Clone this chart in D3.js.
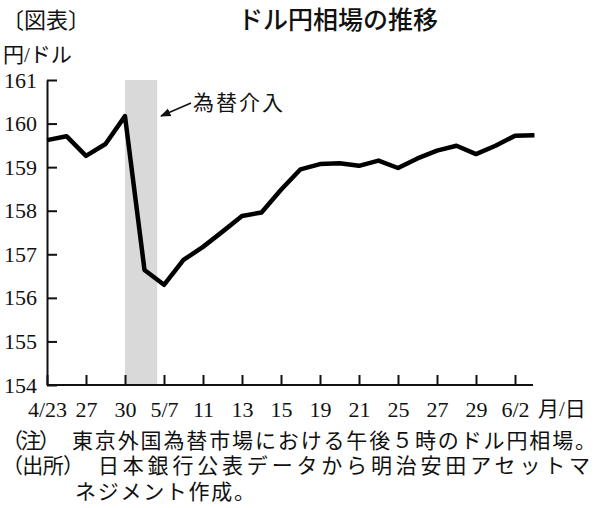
<!DOCTYPE html>
<html>
<head>
<meta charset="utf-8">
<script src="https://cdn.jsdelivr.net/npm/d3@7"></script>
<style>
  body { margin: 0; background: #fff; }
  text { fill: #111; }
</style>
</head>
<body>
<div id="chart"></div>
<script>
// daily values, one per trading day (labels every other point)
const rates = [159.62, 159.71, 159.26, 159.53, 160.17, 156.64, 156.30, 156.87, 157.17, 157.52,
               157.88, 157.96, 158.48, 158.95, 159.07, 159.09, 159.03, 159.15, 158.98, 159.20,
               159.38, 159.49, 159.30, 159.49, 159.72, 159.73];
const dateLabels = ["4/23", "27", "30", "5/7", "11", "13", "15", "19", "21", "25", "27", "29", "6/2"];
const yTicks = [154, 155, 156, 157, 158, 159, 160, 161];
const intervention = [4, 5.65]; // shaded span, in day index

const width = 600, height = 508;
const serif = "'Liberation Serif', 'Noto Sans CJK JP', serif";
const jp = "'Noto Sans CJK JP', sans-serif";

const svg = d3.select("#chart")
    .append("svg")
    .attr("width", width)
    .attr("height", height);

const x = d3.scaleLinear()
    .domain([0, rates.length - 1])
    .range([47, 534.5]);

const y = d3.scaleLinear()
    .domain([154, 161])
    .range([385, 80]);

// shaded intervention band
svg.append("rect")
    .attr("x", x(intervention[0]))
    .attr("y", y(161))
    .attr("width", x(intervention[1]) - x(intervention[0]))
    .attr("height", y(154) - y(161))
    .attr("fill", "#d9d9d9");

// axes
const yAxis = svg.append("g")
    .attr("transform", `translate(${x(0)},0)`)
    .call(d3.axisLeft(y)
        .tickValues(yTicks)
        .tickFormat(d3.format("d"))
        .tickSizeInner(-10).tickSizeOuter(0).tickPadding(10));

const xAxis = svg.append("g")
    .attr("transform", `translate(0,${y(154)})`)
    .call(d3.axisBottom(x)
        .tickValues(dateLabels.map((d, i) => i * 2))
        .tickFormat((d, i) => dateLabels[i])
        .tickSizeInner(-10).tickSizeOuter(0).tickPadding(16));

[yAxis, xAxis].forEach(g => {
    g.selectAll("path, line").attr("stroke", "#111").attr("stroke-width", 2);
    g.selectAll("text")
        .style("font-family", serif)
        .style("font-size", "22px")
        .attr("fill", "#111");
});
xAxis.select(".domain").attr("d", `M${x(0)},0H533`);

// line
const line = d3.line()
    .x((d, i) => x(i))
    .y(d => y(d));

svg.append("path")
    .datum(rates)
    .attr("d", line)
    .attr("fill", "none")
    .attr("stroke", "#000")
    .attr("stroke-width", 4.5)
    .attr("stroke-linejoin", "round");

// arrow annotation
svg.append("defs").append("marker")
    .attr("id", "arrow")
    .attr("viewBox", "0 0 10 10")
    .attr("refX", 9).attr("refY", 5)
    .attr("markerWidth", 7).attr("markerHeight", 7)
    .attr("orient", "auto")
    .append("path")
    .attr("d", "M0,1L10,5L0,9Z")
    .attr("fill", "#111");

svg.append("line")
    .attr("x1", 191).attr("y1", 103)
    .attr("x2", 161).attr("y2", 116)
    .attr("stroke", "#111")
    .attr("stroke-width", 1.5)
    .attr("marker-end", "url(#arrow)");

svg.append("text")
    .attr("x", 193).attr("y", 110)
    .style("font-family", jp)
    .style("font-size", "21px")
    .attr("textLength", 90)
    .text("為替介入");

// titles
svg.append("text")
    .attr("x", 2).attr("y", 28)
    .style("font-family", jp)
    .style("font-size", "22px")
    .text("〔図表〕");

svg.append("text")
    .attr("x", 338).attr("y", 29)
    .attr("text-anchor", "middle")
    .style("font-family", jp)
    .style("font-size", "25px")
    .style("font-weight", "500")
    .text("ドル円相場の推移");

svg.append("text")
    .attr("x", 3).attr("y", 62)
    .style("font-family", serif)
    .style("font-size", "21px")
    .text("円/ドル");

svg.append("text")
    .attr("x", 538).attr("y", 416)
    .style("font-family", serif)
    .style("font-size", "21px")
    .text("月/日");

// notes
const notes = [
    { x: 2, y: 448, t: "（注）", len: 58 },
    { x: 72, y: 448, t: "東京外国為替市場における午後５時のドル円相場。", len: 524 },
    { x: 2, y: 473, t: "（出所）", len: 82 },
    { x: 98, y: 473, t: "日本銀行公表データから明治安田アセットマ", len: 492 },
    { x: 75, y: 499, t: "ネジメント作成。", len: 180 }
];
svg.selectAll(".note")
    .data(notes)
    .enter()
    .append("text")
    .attr("class", "note")
    .attr("x", d => d.x)
    .attr("y", d => d.y)
    .attr("textLength", d => d.len)
    .style("font-family", serif)
    .style("font-size", "21px")
    .text(d => d.t);
</script>
</body>
</html>
